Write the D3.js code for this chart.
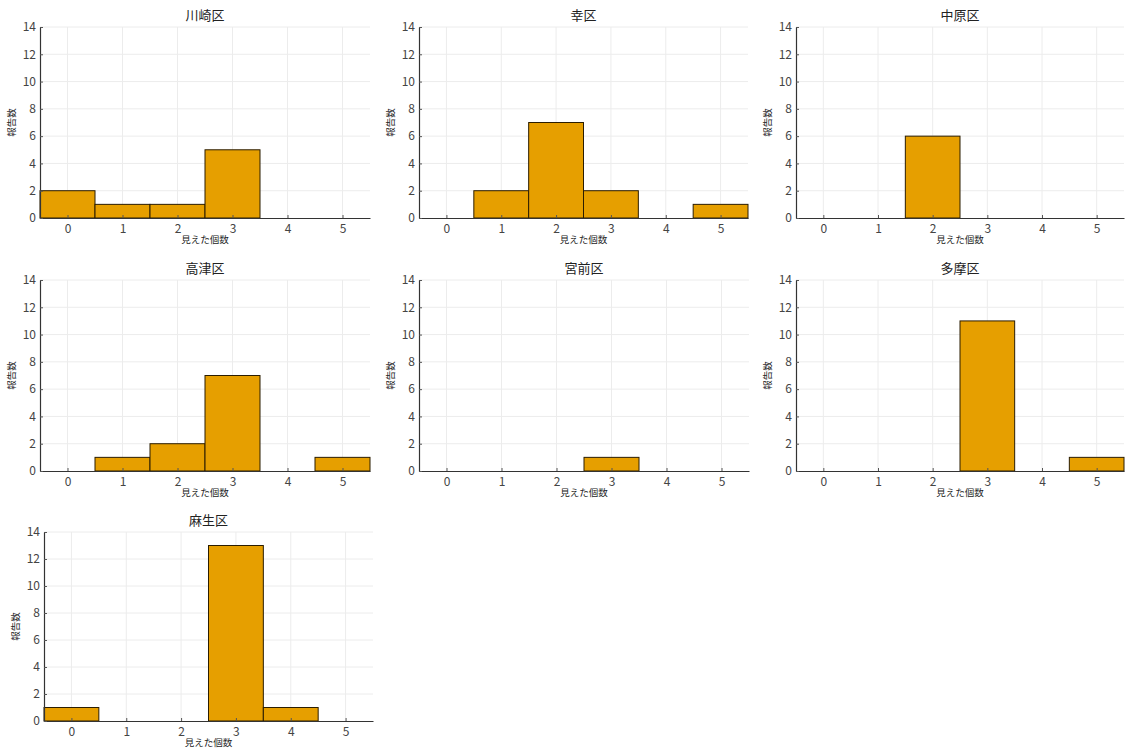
<!DOCTYPE html>
<html>
<head>
<meta charset="utf-8">
<script src="https://cdn.jsdelivr.net/npm/d3@7"></script>
<style>
  body { margin: 0; background: #fff; }
  svg { display: block; }
  text { font-family: "Noto Sans CJK JP", "Noto Sans", sans-serif; }
</style>
</head>
<body>
<svg id="chart" width="1126" height="751"></svg>
<script>
// Histogram of how many were seen, per ward
const wards = ["川崎区", "幸区", "中原区", "高津区", "宮前区", "多摩区", "麻生区"];
const seenCounts = [0, 1, 2, 3, 4, 5];
const kawasaki  = [2, 1, 1, 5, 0, 0];
const saiwai    = [0, 2, 7, 2, 0, 1];
const nakahara  = [0, 0, 6, 0, 0, 0];
const takatsu   = [0, 1, 2, 7, 0, 1];
const miyamae   = [0, 0, 0, 1, 0, 0];
const tama      = [0, 0, 0, 11, 0, 1];
const asao      = [1, 0, 0, 13, 1, 0];
const yTicks = [0, 2, 4, 6, 8, 10, 12, 14];
const xLabel = "見えた個数";
const yLabel = "報告数";

const seriesByWard = [kawasaki, saiwai, nakahara, takatsu, miyamae, tama, asao];

// plot rectangles of the grid of panels
const panels = [
  { x0: 40,  x1: 370,  y0: 27,  y1: 218 },
  { x0: 419, x1: 748,  y0: 27,  y1: 218 },
  { x0: 796, x1: 1124, y0: 27,  y1: 218 },
  { x0: 40,  x1: 370,  y0: 280, y1: 471 },
  { x0: 419, x1: 749,  y0: 280, y1: 471 },
  { x0: 796, x1: 1124, y0: 280, y1: 471 },
  { x0: 44,  x1: 373,  y0: 532, y1: 721 }
];

const svg = d3.select("#chart");

wards.forEach((name, i) => {
  const p = panels[i];
  const vals = seriesByWard[i];
  const x = d3.scaleLinear().domain([-0.5, 5.5]).range([p.x0, p.x1]);
  const y = d3.scaleLinear().domain([0, 14]).range([p.y1, p.y0]);
  const g = svg.append("g");

  // grid
  g.selectAll("line.gx").data(seenCounts).join("line")
    .attr("x1", d => x(d)).attr("x2", d => x(d))
    .attr("y1", p.y0).attr("y2", p.y1)
    .attr("stroke", "#ececec").attr("stroke-width", 1);
  g.selectAll("line.gy").data(yTicks.slice(1)).join("line")
    .attr("x1", p.x0).attr("x2", p.x1)
    .attr("y1", d => y(d)).attr("y2", d => y(d))
    .attr("stroke", "#ececec").attr("stroke-width", 1);

  // bars
  g.selectAll("rect").data(seenCounts.map((c, k) => ({ c, v: vals[k] })).filter(d => d.v > 0)).join("rect")
    .attr("x", d => x(d.c - 0.5)).attr("width", d => x(d.c + 0.5) - x(d.c - 0.5))
    .attr("y", d => y(d.v)).attr("height", d => y(0) - y(d.v))
    .attr("fill", "#E69F00").attr("stroke", "#2b1d00").attr("stroke-width", 1);

  // axes
  const xAxis = d3.axisBottom(x).tickValues(seenCounts).tickSize(-3).tickSizeOuter(0).tickPadding(6).tickFormat(d3.format("d"));
  const yAxis = d3.axisLeft(y).tickValues(yTicks).tickSize(-3).tickSizeOuter(0).tickPadding(4).tickFormat(d3.format("d"));
  const gx = g.append("g").attr("transform", `translate(0,${p.y1})`).call(xAxis);
  const gy = g.append("g").attr("transform", `translate(${p.x0},0)`).call(yAxis);
  [gx, gy].forEach(a => {
    a.select(".domain").attr("stroke", "#333").attr("stroke-width", 1.2);
    a.selectAll(".tick line").attr("stroke", "#555");
    a.selectAll(".tick text").attr("fill", "#444").attr("font-size", 12);
  });

  // titles and axis labels
  g.append("text").attr("x", (p.x0 + p.x1) / 2).attr("y", p.y0 - 7)
    .attr("text-anchor", "middle").attr("font-size", 13).attr("fill", "#222").text(name);
  g.append("text").attr("x", (p.x0 + p.x1) / 2).attr("y", p.y1 + 25)
    .attr("text-anchor", "middle").attr("font-size", 9.5).attr("fill", "#222").text(xLabel);
  g.append("text")
    .attr("transform", `translate(${p.x0 - 25},${(p.y0 + p.y1) / 2}) rotate(-90)`)
    .attr("text-anchor", "middle").attr("font-size", 9.5).attr("fill", "#222").text(yLabel);
});
</script>
</body>
</html>
